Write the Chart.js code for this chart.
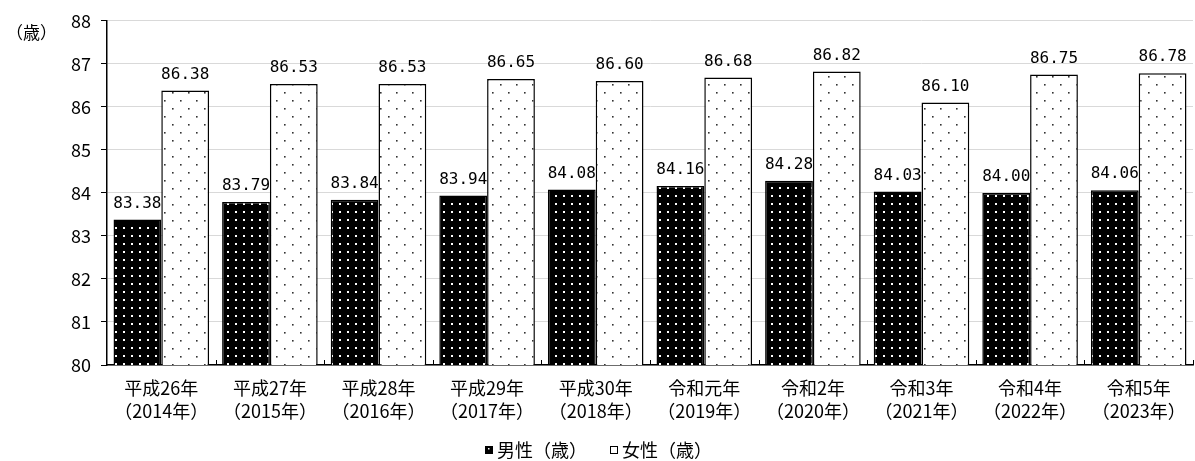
<!DOCTYPE html>
<html><head><meta charset="utf-8">
<script src="https://cdn.jsdelivr.net/npm/chart.js@4/dist/chart.umd.min.js"></script>
<style>html,body{margin:0;padding:0;background:#fff}#c{display:block}</style>
</head><body>
<canvas id="c" width="1195" height="461"></canvas>
<script>
const eraLabels = ["平成26年","平成27年","平成28年","平成29年","平成30年","令和元年","令和2年","令和3年","令和4年","令和5年"];
const yearLabels = ["（2014年）","（2015年）","（2016年）","（2017年）","（2018年）","（2019年）","（2020年）","（2021年）","（2022年）","（2023年）"];
const maleValues = [83.38, 83.79, 83.84, 83.94, 84.08, 84.16, 84.28, 84.03, 84.00, 84.06];
const femaleValues = [86.38, 86.53, 86.53, 86.65, 86.60, 86.68, 86.82, 86.10, 86.75, 86.78];
const seriesNames = ["男性（歳）", "女性（歳）"];
const unitLabel = "（歳）";

const FONT = "'Liberation Sans Narrow', 'Noto Sans CJK JP', sans-serif";
const CJK = "'Noto Sans CJK JP', sans-serif";
const MONO = "'DejaVu Sans Mono', monospace";

function makePattern(bg, fg, size, dots, r) {
  const p = document.createElement('canvas');
  p.width = size; p.height = size;
  const g = p.getContext('2d');
  g.fillStyle = bg; g.fillRect(0, 0, size, size);
  g.fillStyle = fg;
  dots.forEach(d => g.fillRect(d[0], d[1], r, r));
  return document.getElementById('c').getContext('2d').createPattern(p, 'repeat');
}
const blackPat = makePattern('#000', '#fff', 8, [[3,3]], 2);
const whitePat = makePattern('#fff', '#333', 16, [[4,4],[12,12]], 1.6);

const valueLabels = {
  id: 'valueLabels',
  afterDatasetsDraw(chart) {
    const ctx = chart.ctx;
    ctx.save();
    ctx.font = "16px " + MONO;
    ctx.fillStyle = '#000';
    ctx.textAlign = 'center';
    ctx.textBaseline = 'bottom';
    chart.data.datasets.forEach((ds, i) => {
      chart.getDatasetMeta(i).data.forEach((bar, j) => {
        ctx.fillText(ds.data[j].toFixed(2), bar.x, bar.y - 8);
      });
    });
    ctx.restore();
  }
};
const extras = {
  id: 'extras',
  afterDraw(chart) {
    const ctx = chart.ctx;
    const ca = chart.chartArea;
    const xs = chart.scales.x;
    ctx.save();
    ctx.strokeStyle = '#000';
    ctx.lineWidth = 1;
    const n = chart.data.labels.length;
    for (let i = 1; i <= n; i++) {
      const px = i < n ? Math.round((xs.getPixelForValue(i - 1) + xs.getPixelForValue(i)) / 2) : ca.right;
      ctx.beginPath();
      ctx.moveTo(px + 0.5, ca.bottom);
      ctx.lineTo(px + 0.5, ca.bottom - 5);
      ctx.stroke();
    }
    ctx.font = "17px " + CJK;
    ctx.fillStyle = '#000';
    ctx.textAlign = 'left';
    ctx.textBaseline = 'middle';
    ctx.fillText(unitLabel, 6, 33);
    ctx.font = "18px " + CJK;
    const ly = 450;
    const items = [
      { x: 485, fill: '#000' },
      { x: 610, fill: '#fff' }
    ];
    chart.data.datasets.forEach((ds, i) => {
      const it = items[i];
      ctx.fillStyle = it.fill;
      ctx.fillRect(it.x, ly - 4, 8, 8);
      ctx.strokeStyle = '#000';
      ctx.lineWidth = 1;
      ctx.strokeRect(it.x + 0.5, ly - 3.5, 7, 7);
      if (i === 0) { ctx.fillStyle = '#fff'; ctx.fillRect(it.x + 3, ly - 2, 1.5, 1.5); }
      ctx.fillStyle = '#000';
      ctx.fillText(ds.label, it.x + 12, ly);
    });
    ctx.restore();
  }
};

new Chart(document.getElementById('c'), {
  type: 'bar',
  data: {
    labels: eraLabels.map((e, i) => [e, yearLabels[i]]),
    datasets: [
      { label: seriesNames[0], data: maleValues, backgroundColor: blackPat, borderColor: '#000', borderWidth: 1.5 },
      { label: seriesNames[1], data: femaleValues, backgroundColor: whitePat, borderColor: '#000', borderWidth: 1.5 }
    ]
  },
  options: {
    responsive: false,
    animation: false,
    layout: { padding: { top: 20, right: 2, left: 0, bottom: 0 } },
    datasets: { bar: { categoryPercentage: 0.88, barPercentage: 1.0 } },
    scales: {
      x: {
        grid: { display: false },
        border: { display: true, color: '#000', width: 1.5 },
        ticks: { font: { family: FONT, size: 18, lineHeight: 1.28 }, color: '#000', maxRotation: 0, padding: 4 },
        afterFit(s) { s.height = 96; }
      },
      y: {
        min: 80, max: 88,
        ticks: { stepSize: 1, font: { family: FONT, size: 18 }, color: '#000', padding: 10 },
        grid: { color: '#d9d9d9', lineWidth: 1, tickColor: '#000', tickLength: 6 },
        border: { display: true, color: '#000', width: 1.5 },
        afterFit(s) { s.width = 107; }
      }
    },
    plugins: {
      legend: { display: false },
      tooltip: { enabled: false }
    }
  },
  plugins: [valueLabels, extras]
});
</script>
</body></html>
